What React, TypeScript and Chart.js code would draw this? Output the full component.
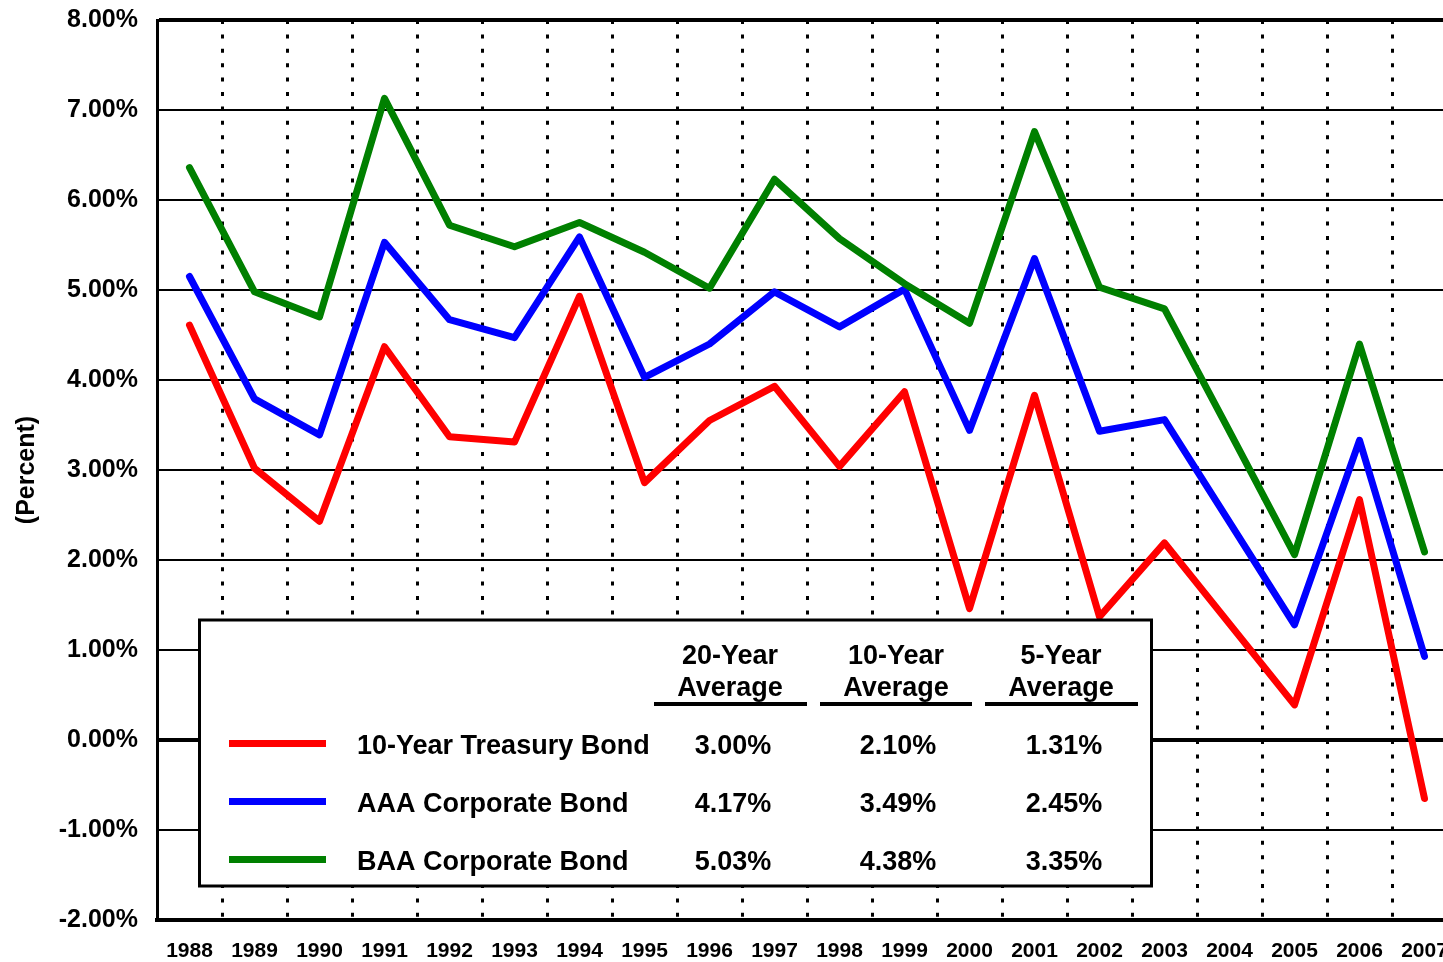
import React, { useEffect, useRef } from "react";
import { Chart, registerables } from "chart.js";

Chart.register(...registerables);

const years = ["1988", "1989", "1990", "1991", "1992", "1993", "1994", "1995", "1996", "1997", "1998", "1999", "2000", "2001", "2002", "2003", "2004", "2005", "2006", "2007"];
const treasury = [4.61, 3.02, 2.43, 4.37, 3.37, 3.31, 4.93, 2.86, 3.55, 3.93, 3.04, 3.87, 1.46, 3.83, 1.37, 2.19, 1.29, 0.39, 2.67, -0.65];
const aaa = [5.15, 3.79, 3.39, 5.53, 4.67, 4.47, 5.59, 4.03, 4.4, 4.98, 4.59, 5.01, 3.44, 5.35, 3.43, 3.56, 2.42, 1.28, 3.33, 0.93];
const baa = [6.36, 4.98, 4.7, 7.13, 5.72, 5.48, 5.75, 5.42, 5.02, 6.23, 5.57, 5.07, 4.63, 6.76, 5.03, 4.79, 3.43, 2.06, 4.4, 2.09];

const seriesNames = ["10-Year Treasury Bond", "AAA Corporate Bond", "BAA Corporate Bond"];
const seriesColors = ["#FF0000", "#0000FF", "#008000"];
const avgHeaders = ["20-Year", "10-Year", "5-Year"];
const avgSubHeader = "Average";
const avg20 = [3.0, 4.17, 5.03];
const avg10 = [2.1, 3.49, 4.38];
const avg5 = [1.31, 2.45, 3.35];

const FONT = '"Liberation Sans", Arial, Helvetica, sans-serif';

const tablePlugin = {
  id: "avgTable",
  afterDatasetsDraw(chart: any) {
    const ctx = chart.ctx as CanvasRenderingContext2D;
    ctx.save();
    ctx.fillStyle = "#ffffff";
    ctx.fillRect(199, 620, 952, 266);
    ctx.lineWidth = 3;
    ctx.strokeStyle = "#000000";
    ctx.strokeRect(199.5, 620, 952, 266);

    ctx.fillStyle = "#000000";
    ctx.font = `bold 27px ${FONT}`;
    ctx.textAlign = "center";
    ctx.textBaseline = "middle";
    const headX = [730, 896, 1061];
    const ulines = [
      [654, 807],
      [820, 972],
      [985, 1138],
    ];
    avgHeaders.forEach((h, i) => {
      ctx.fillText(h, headX[i], 657);
      ctx.fillText(avgSubHeader, headX[i], 689);
      ctx.fillRect(ulines[i][0], 702, ulines[i][1] - ulines[i][0], 4);
    });

    const rowY = [747, 805, 863];
    const valX = [733, 898, 1064];
    const cols = [avg20, avg10, avg5];
    seriesNames.forEach((name, r) => {
      ctx.fillStyle = seriesColors[r];
      ctx.fillRect(229, rowY[r] - 7, 97, 7);
      ctx.fillStyle = "#000000";
      ctx.textAlign = "left";
      ctx.fillText(name, 357, rowY[r]);
      ctx.textAlign = "center";
      cols.forEach((col, c) => {
        ctx.fillText(col[r].toFixed(2) + "%", valX[c], rowY[r]);
      });
    });
    ctx.restore();
  },
};

export default function App() {
  const ref = useRef<HTMLCanvasElement | null>(null);

  useEffect(() => {
    document.body.style.margin = "0";
    document.body.style.overflow = "hidden";
    const canvas = ref.current;
    if (!canvas) return;
    const mk = (label: string, data: number[], color: string) => ({
      label,
      data,
      borderColor: color,
      backgroundColor: color,
      borderWidth: 7,
      pointRadius: 0,
      pointHoverRadius: 0,
      tension: 0,
      borderJoinStyle: "round" as const,
      borderCapStyle: "round" as const,
      fill: false,
    });
    const chart = new Chart(canvas, {
      type: "line",
      data: {
        labels: years,
        datasets: [
          mk(seriesNames[2], baa, seriesColors[2]),
          mk(seriesNames[1], aaa, seriesColors[1]),
          mk(seriesNames[0], treasury, seriesColors[0]),
        ],
      },
      options: {
        animation: false,
        responsive: false,
        devicePixelRatio: 1,
        events: [],
        layout: { padding: { top: 20, right: 3, left: 0, bottom: 0 } },
        plugins: {
          legend: { display: false },
          tooltip: { enabled: false },
        },
        scales: {
          x: {
            type: "category",
            offset: true,
            grid: {
              offset: true,
              color: "#000000",
              lineWidth: 3,
              drawTicks: false,
            },
            border: { display: true, color: "#000000", width: 4, dash: [4, 10.4] },
            ticks: {
              color: "#000000",
              font: { family: FONT, size: 21, weight: "bold" },
              padding: 19,
              maxRotation: 0,
              autoSkip: false,
            },
            afterFit: (scale: any) => {
              scale.height = 42;
              scale.paddingLeft = 0;
              scale.paddingRight = 0;
            },
          },
          y: {
            min: -2,
            max: 8,
            grid: {
              color: "#000000",
              lineWidth: (c: any) => (c.tick && (c.tick.value === 0 || c.tick.value === 8) ? 4 : 2),
              drawTicks: false,
            },
            border: { display: true, color: "#000000", width: 3 },
            ticks: {
              stepSize: 1,
              color: "#000000",
              font: { family: FONT, size: 25, weight: "bold" },
              padding: 19,
              callback: (v: any) => Number(v).toFixed(2) + "%",
            },
            title: {
              display: true,
              text: "(Percent)",
              color: "#000000",
              font: { family: FONT, size: 25, weight: "bold" },
              padding: { top: 12, bottom: 0 },
            },
            afterFit: (scale: any) => {
              scale.width = 157;
              scale.paddingTop = 0;
              scale.paddingBottom = 0;
            },
          },
        },
      },
      plugins: [tablePlugin],
    });
    return () => chart.destroy();
  }, []);

  return (
    <div style={{ position: "fixed", left: 0, top: 0, width: 1460, height: 962, background: "#ffffff" }}>
      <canvas ref={ref} width={1460} height={962} />
    </div>
  );
}
